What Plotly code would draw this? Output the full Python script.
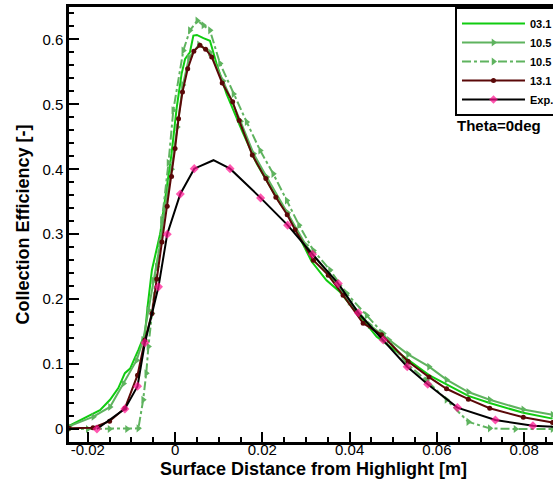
import plotly.graph_objects as go

# ---------------- data ----------------
s031_x = [-0.0243, -0.0217, -0.0172, -0.0149, -0.0130, -0.0115, -0.0103, -0.0084, -0.0069, -0.0063,
          -0.0053, -0.0034, -0.0023, -0.0008, 0.0004, 0.0015, 0.0023, 0.0034, 0.0042, 0.0050,
          0.0065, 0.0080, 0.0095, 0.0118, 0.0153, 0.0187, 0.0218, 0.0241, 0.0256, 0.0313,
          0.0347, 0.0378, 0.0405, 0.0431, 0.0462, 0.0534, 0.0582, 0.0672, 0.0721, 0.0798, 0.0865]
s031_y = [0.005, 0.014, 0.029, 0.045, 0.063, 0.086, 0.093, 0.122, 0.147, 0.188,
          0.245, 0.301, 0.350, 0.424, 0.496, 0.547, 0.570, 0.580, 0.606, 0.607,
          0.602, 0.598, 0.563, 0.516, 0.460, 0.409, 0.373, 0.347, 0.334, 0.258,
          0.229, 0.211, 0.188, 0.168, 0.142, 0.106, 0.083, 0.051, 0.040, 0.025, 0.016]

s105a_x = [-0.0243, -0.0187, -0.0149, -0.0118, -0.0088, -0.0073, -0.0061, -0.0050, -0.0034, -0.0023,
           -0.0008, 0.0005, 0.0018, 0.0032, 0.0055, 0.0080, 0.0110, 0.0150, 0.0180, 0.0210,
           0.0258, 0.0300, 0.0350, 0.0400, 0.0446, 0.0490, 0.0534, 0.0582, 0.0622, 0.0672,
           0.0721, 0.0798, 0.0865]
s105a_y = [0.004, 0.019, 0.034, 0.070, 0.106, 0.137, 0.183, 0.229, 0.286, 0.342,
           0.400, 0.465, 0.530, 0.572, 0.592, 0.580, 0.536, 0.474, 0.424, 0.388,
           0.333, 0.283, 0.240, 0.196, 0.160, 0.137, 0.115, 0.096, 0.076, 0.057,
           0.045, 0.030, 0.022]

s105b_x = [-0.0243, -0.0200, -0.0150, -0.0110, -0.0084, -0.0073, -0.0066, -0.0061, -0.0053, -0.0042,
           -0.0030, -0.0015, -0.0004, 0.0019, 0.0034, 0.0051, 0.0065, 0.0080, 0.0103, 0.0134,
           0.0164, 0.0195, 0.0225, 0.0256, 0.0284, 0.0317, 0.0355, 0.0393, 0.0439, 0.0477,
           0.0532, 0.0576, 0.0622, 0.0672, 0.0721, 0.0780, 0.0865]
s105b_y = [0.000, 0.000, 0.000, 0.000, 0.001, 0.045, 0.086, 0.127, 0.178, 0.250,
           0.322, 0.410, 0.491, 0.583, 0.614, 0.629, 0.622, 0.614, 0.563, 0.516,
           0.473, 0.429, 0.393, 0.352, 0.314, 0.275, 0.245, 0.209, 0.175, 0.147,
           0.100, 0.075, 0.045, 0.011, 0.001, 0.000, 0.000]

s131_x = [-0.0243, -0.0188, -0.0150, -0.0115, -0.0086, -0.0069, -0.0053, -0.0042, -0.0030, -0.0018,
          -0.0008, 0.0000, 0.0008, 0.0017, 0.0029, 0.0043, 0.0057, 0.0070, 0.0084, 0.0108,
          0.0132, 0.0147, 0.0177, 0.0208, 0.0231, 0.0257, 0.0275, 0.0317, 0.0351, 0.0385,
          0.0431, 0.0473, 0.0534, 0.0582, 0.0622, 0.0672, 0.0721, 0.0798, 0.0865]
s131_y = [0.001, 0.002, 0.012, 0.032, 0.083, 0.137, 0.178, 0.231, 0.288, 0.343,
          0.389, 0.432, 0.478, 0.519, 0.555, 0.582, 0.591, 0.585, 0.573, 0.533,
          0.504, 0.475, 0.422, 0.386, 0.357, 0.330, 0.307, 0.260, 0.237, 0.206,
          0.163, 0.145, 0.104, 0.080, 0.062, 0.046, 0.032, 0.018, 0.010]

exp_x = [-0.0179, -0.0115, -0.0086, -0.0069, -0.0038, -0.0018, 0.0012, 0.0044, 0.0088, 0.0126,
         0.0196, 0.0258, 0.0315, 0.0374, 0.0420, 0.0477, 0.0532, 0.0579, 0.0647, 0.0734,
         0.0820, 0.0880]
exp_y = [0.000, 0.031, 0.066, 0.133, 0.219, 0.300, 0.362, 0.401, 0.414, 0.401,
         0.356, 0.314, 0.269, 0.224, 0.179, 0.137, 0.096, 0.069, 0.033, 0.014,
         0.005, 0.003]

series_names = ["03.1", "10.5", "10.5", "13.1", "Exp."]

x_tick_vals = [-0.02, 0, 0.02, 0.04, 0.06, 0.08]
x_tick_text = ["-0.02", "0", "0.02", "0.04", "0.06", "0.08"]
y_tick_vals = [0, 0.1, 0.2, 0.3, 0.4, 0.5, 0.6]
y_tick_text = ["0", "0.1", "0.2", "0.3", "0.4", "0.5", "0.6"]

x_title = "Surface Distance from Highlight [m]"
y_title = "Collection Efficiency [-]"
note_text = "Theta=0deg"

# ---------------- figure ----------------
FONT = "Liberation Sans, Arial, Helvetica, sans-serif"
GREEN1 = "#10cc10"
GREEN2 = "#5fb35f"
MAROON = "#5a0808"
PINK = "#ff0f8f"

fig = go.Figure()
fig.add_trace(go.Scatter(x=s031_x, y=s031_y, name=series_names[0], mode="lines",
                         line=dict(color=GREEN1, width=2)))
fig.add_trace(go.Scatter(x=s105a_x, y=s105a_y, name=series_names[1], mode="lines+markers",
                         line=dict(color=GREEN2, width=2),
                         marker=dict(symbol="triangle-right", size=7, color=GREEN2)))
fig.add_trace(go.Scatter(x=s105b_x, y=s105b_y, name=series_names[2], mode="lines+markers",
                         line=dict(color=GREEN2, width=2, dash="dashdot"),
                         marker=dict(symbol="triangle-right", size=7, color=GREEN2)))
fig.add_trace(go.Scatter(x=s131_x, y=s131_y, name=series_names[3], mode="lines+markers",
                         line=dict(color=MAROON, width=2),
                         marker=dict(symbol="circle", size=5, color=MAROON)))
peak_idx = exp_y.index(max(exp_y))
exp_sizes = [0 if i == peak_idx else 7 for i in range(len(exp_y))]
fig.add_trace(go.Scatter(x=exp_x, y=exp_y, name=series_names[4], mode="lines+markers",
                         line=dict(color="black", width=2),
                         marker=dict(symbol="diamond", size=exp_sizes, color=PINK,
                                     line=dict(width=0))))

# texts: annotation, axis titles
fig.add_annotation(text=note_text, xref="paper", yref="paper", x=0.797, y=0.728,
                   xanchor="left", yanchor="middle", showarrow=False,
                   font=dict(family=FONT, size=15, color="black", weight="bold"))
fig.add_annotation(text=x_title, xref="paper", yref="paper", x=0.505, y=-0.062,
                   xanchor="center", yanchor="middle", showarrow=False,
                   font=dict(family=FONT, size=18, color="black", weight="bold"))
fig.add_annotation(text=y_title, xref="paper", yref="paper", x=-0.097, y=0.5,
                   xanchor="center", yanchor="middle", showarrow=False, textangle=-90,
                   font=dict(family=FONT, size=18, color="black", weight="bold"))

fig.update_layout(
    width=553, height=479,
    margin=dict(l=69, r=0, t=7, b=37, autoexpand=False),
    paper_bgcolor="white", plot_bgcolor="white",
    font=dict(family=FONT, size=15, color="black"),
    showlegend=True,
    legend=dict(x=0.7975, y=1.0, xanchor="left", yanchor="top",
                bordercolor="black", borderwidth=2, bgcolor="white",
                itemwidth=63,
                font=dict(family=FONT, size=11, color="black", weight="bold"),
                tracegroupgap=0),
    xaxis=dict(range=[-0.0243, 0.0866], tickmode="array", tickvals=x_tick_vals, ticktext=x_tick_text,
               ticks="inside", ticklen=10, tickwidth=2, tickcolor="black",
               minor=dict(dtick=0.005, tick0=0, ticks="inside", ticklen=5, tickwidth=1.5, tickcolor="black"),
               showline=True, linecolor="black", linewidth=2.5, mirror=True,
               showgrid=False, zeroline=False, ticklabelstandoff=-8,
               tickfont=dict(family=FONT, size=15, color="black")),
    yaxis=dict(range=[-0.02, 0.65], tickmode="array", tickvals=y_tick_vals, ticktext=y_tick_text,
               ticks="inside", ticklen=10, tickwidth=2, tickcolor="black",
               minor=dict(dtick=0.02, tick0=0, ticks="inside", ticklen=5, tickwidth=1.5, tickcolor="black"),
               showline=True, linecolor="black", linewidth=2.5, mirror=False,
               showgrid=False, zeroline=False,
               tickfont=dict(family=FONT, size=15, color="black")),
)

fig.write_html("out.html", config={"displayModeBar": False},
               post_script="document.body.style.margin='0px';")
